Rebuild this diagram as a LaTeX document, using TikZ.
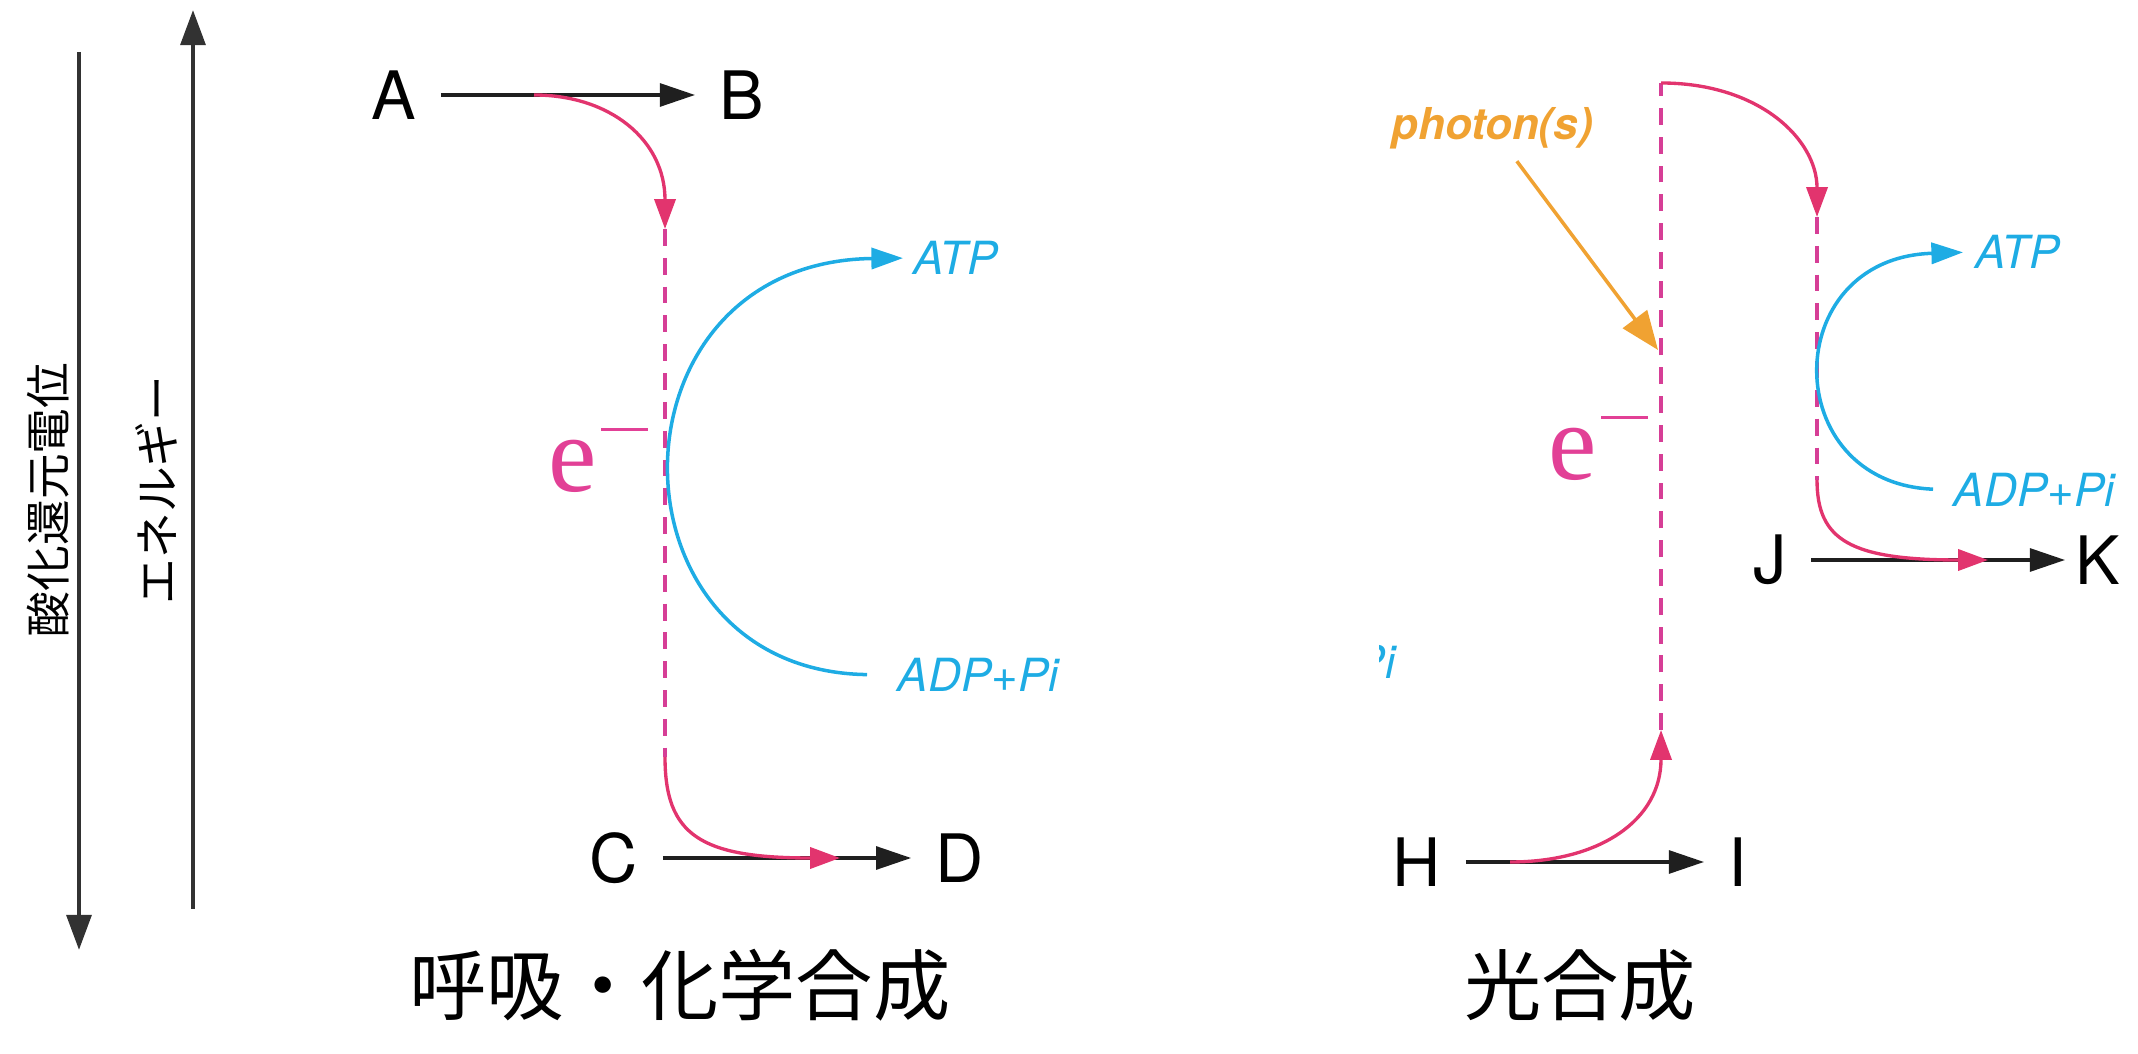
\documentclass[tikz,border=0pt]{standalone}
\usepackage{fontspec}
\setmainfont{TeX Gyre Heros}
\newfontfamily\jpfont{Noto Sans CJK JP}
\newfontfamily\efont{Liberation Serif}
\usetikzlibrary{arrows.meta}
\definecolor{eflowpink}{RGB}{226,52,110}
\definecolor{edashpink}{RGB}{214,62,150}
\definecolor{elabel}{RGB}{226,64,150}
\definecolor{atpblue}{RGB}{30,172,228}
\definecolor{photonorange}{RGB}{240,162,50}
\definecolor{axisgray}{RGB}{50,50,50}
\newcommand{\eminus}{e\hspace{0.4mm}\rule[6.1mm]{4.7mm}{0.32mm}}

\begin{document}
\begin{tikzpicture}[
  x=0.1mm, y=-0.1mm,
  letter/.style={font=\fontsize{19}{19}\selectfont, inner xsep=2.4mm, inner ysep=0pt},
  chem/.style={text=atpblue, font=\fontsize{13}{13}\selectfont\itshape, inner sep=0pt},
  elab/.style={text=elabel, font=\efont\fontsize{31}{31}\selectfont, inner sep=0pt},
  phot/.style={text=photonorange, font=\fontsize{12.5}{12.5}\selectfont\bfseries\itshape},
  vlabel/.style={rotate=90, font=\jpfont\fontsize{13}{13}\selectfont},
  title/.style={font=\jpfont\fontsize{22}{22}\selectfont},
  axis/.style={-{Triangle[length=10pt,width=7pt]}, line width=1.3pt, draw=axisgray},
  rxn/.style={-{Triangle[length=10pt,width=6.5pt]}, line width=1pt, draw=black!88},
  eflow/.style={-{Triangle[length=8.5pt,width=6pt]}, line width=0.95pt, draw=eflowpink},
  edash/.style={line width=1.1pt, draw=edashpink, dash pattern=on 4.8pt off 3.4pt},
  atp/.style={-{Triangle[length=9pt,width=6pt]}, line width=1pt, draw=atpblue},
  photarrow/.style={-{Triangle[length=11pt,width=8.5pt]}, line width=1pt, draw=photonorange}
]
\useasboundingbox (0,0) rectangle (2138,1054);

% axes
\coordinate (redoxTop) at (79,52);
\coordinate (redoxBot) at (79,950);
\coordinate (energyBot) at (193,909);
\coordinate (energyTop) at (193,10);
\draw[axis] (redoxTop) -- (redoxBot);
\draw[axis] (energyBot) -- (energyTop);
\node[vlabel] (redox) at (48,500) {酸化還元電位};
\node[vlabel] (energy) at (156,490) {エネルギー};

% respiration / chemosynthesis
\node[letter] (A) at (394,95) {A};
\node[letter] (B) at (742,95) {B};
\node[letter] (C) at (614,858) {C};
\node[letter] (D) at (960,858) {D};
\draw[rxn] (A) -- (B);
\draw[rxn] (C) -- (D);

\coordinate (abOut) at (534,95);
\coordinate (chainTop) at (665,229);
\coordinate (chainBot) at (665,757);
\coordinate (cdIn) at (840,858);
\draw[eflow] (abOut) .. controls (610,95) and (665,140) .. (chainTop);
\draw[edash] (chainTop) -- (chainBot);
\draw[eflow] (chainBot) .. controls (665,835) and (700,858) .. (cdIn);

\node[chem, anchor=west] (atpL) at (913,258) {ATP};
\node[chem, anchor=west] (adpL) at (897,675) {ADP+Pi};
\draw[atp, shorten <=3mm, shorten >=1mm] (adpL.west) .. controls (600,671) and (600,262) .. (atpL.west);
\node[elab, anchor=base west] (eL) at (548,492) {\eminus};

% photosynthesis
\node[phot] (photon) at (1492,128) {photon(s)};
\coordinate (eIn) at (1658,350);
\draw[photarrow] (photon) -- (eIn);

\node[letter] (H) at (1417,862) {H};
\node[letter] (I) at (1738,862) {I};
\node[letter] (J) at (1770,560) {J};
\node[letter, inner xsep=1mm] (K) at (2098,560) {K};
\draw[rxn] (H) -- (I);
\draw[rxn] (J) -- (K);

\coordinate (hiOut) at (1510,862);
\coordinate (psBot) at (1661,730);
\coordinate (psTop) at (1661,83);
\coordinate (chain2Top) at (1817,217);
\coordinate (chain2Bot) at (1817,480);
\coordinate (jkIn) at (1988,560);
\draw[eflow] (hiOut) .. controls (1600,862) and (1661,820) .. (psBot);
\draw[edash] (psBot) -- (psTop);
\draw[eflow] (psTop) .. controls (1760,83) and (1817,140) .. (chain2Top);
\draw[edash] (chain2Top) -- (chain2Bot);
\draw[eflow] (chain2Bot) .. controls (1817,540) and (1850,560) .. (jkIn);

\node[chem, anchor=west] (atpR) at (1975,252) {ATP};
\node[chem, anchor=west] (adpR) at (1953,490) {ADP+Pi};
\draw[atp, shorten <=2mm, shorten >=1.2mm] (adpR.west) .. controls (1778,483) and (1778,258) .. (atpR.west);
\node[elab, anchor=base west] (eR) at (1548,480) {\eminus};

\begin{scope}
\clip (1379,620) rectangle (1402,700);
\node[chem, anchor=east] (adpCut) at (1396,662) {ADP+Pi};
\end{scope}

\node[title] (resp) at (680,985) {呼吸・化学合成};
\node[title] (photo) at (1580,985) {光合成};
\end{tikzpicture}
\end{document}
